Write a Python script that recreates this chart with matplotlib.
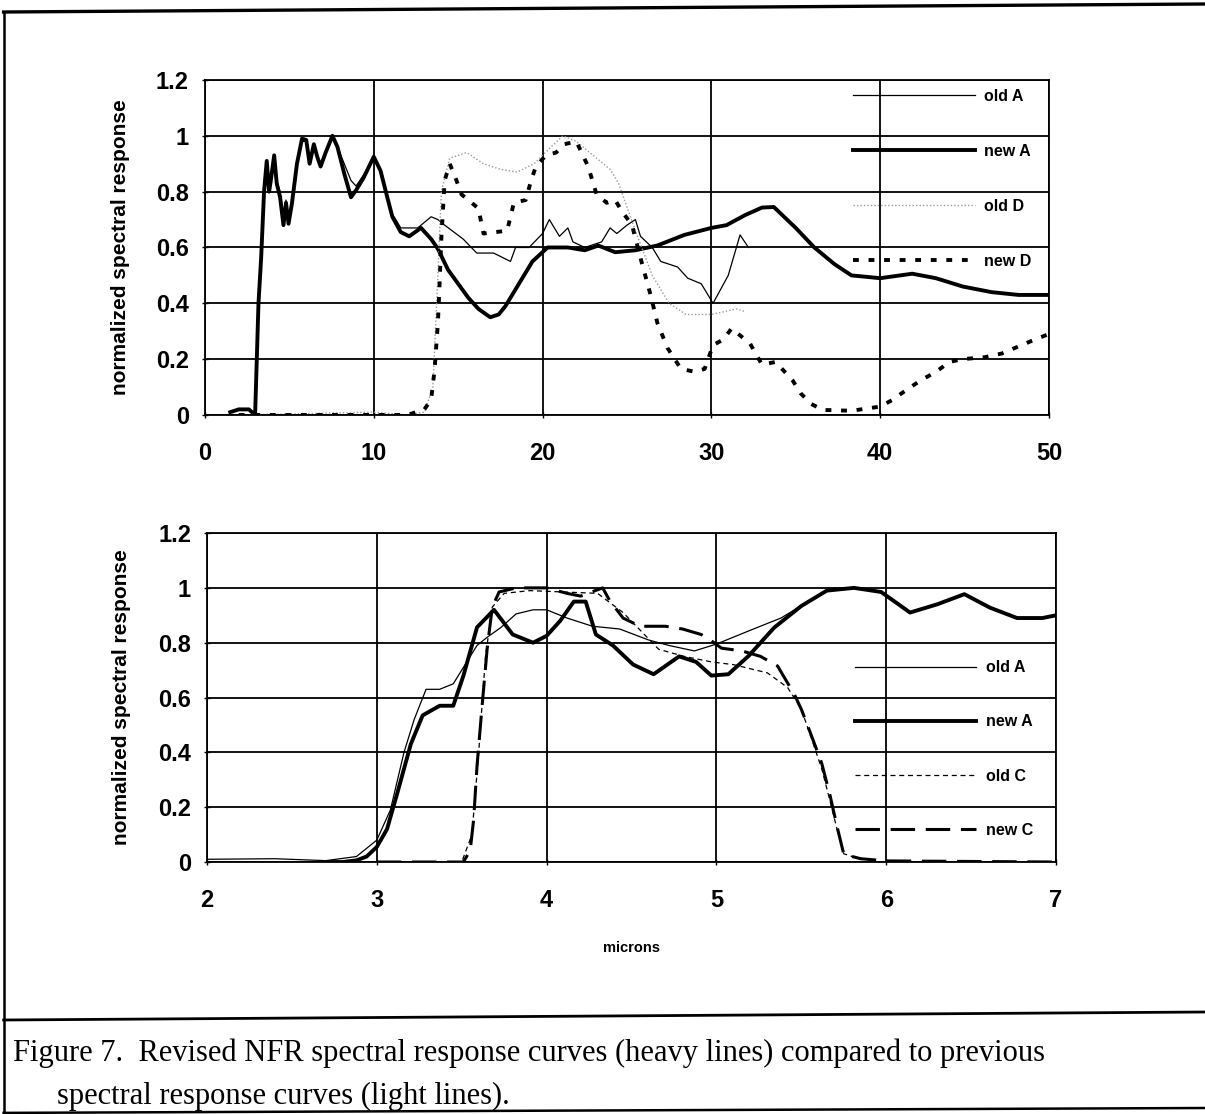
import matplotlib
matplotlib.use("Agg")
import matplotlib.pyplot as plt
from matplotlib.lines import Line2D
from matplotlib.ticker import FuncFormatter

# ---- data ----
# upper panel: wavelength 0-50 microns
newA_top_x = [1.5, 2.0, 2.6, 2.97, 3.17, 3.33, 3.5, 3.66, 3.8, 3.9, 4.1, 4.25, 4.45, 4.65, 4.8,
              4.95, 5.15, 5.45, 5.75, 6.0, 6.2, 6.45, 6.65, 6.85, 7.15, 7.55, 7.85, 8.25, 8.65,
              8.95, 9.4, 10.0, 10.4, 10.8, 11.1, 11.6, 12.1, 12.8, 13.4, 13.8, 14.4, 15.0, 15.6,
              16.2, 16.9, 17.4, 17.8, 18.6, 19.4, 20.3, 21.5, 22.5, 23.3, 24.3, 25.5, 26.8,
              28.4, 30.0, 30.9, 32.0, 33.0, 33.7, 35.0, 36.1, 37.3, 38.3, 40.0, 41.9, 43.3,
              44.9, 46.6, 48.2, 50.0]
newA_top_y = [0.01, 0.02, 0.02, 0.0, 0.4, 0.565, 0.8, 0.91, 0.8, 0.84, 0.93, 0.83, 0.78, 0.68, 0.76,
              0.685, 0.757, 0.9, 0.99, 0.985, 0.9, 0.97, 0.925, 0.89, 0.94, 1.0, 0.96, 0.865, 0.78,
              0.805, 0.85, 0.925, 0.875, 0.78, 0.71, 0.655, 0.64, 0.67, 0.63, 0.595, 0.52, 0.47, 0.42,
              0.38, 0.35, 0.36, 0.39, 0.47, 0.55, 0.6, 0.6, 0.59, 0.607, 0.583, 0.59, 0.607,
              0.645, 0.67, 0.68, 0.716, 0.743, 0.745, 0.67, 0.6, 0.54, 0.5, 0.49, 0.506, 0.49,
              0.46, 0.44, 0.43, 0.43]

oldA_top_x = [1.5, 2.0, 2.6, 2.97, 3.17, 3.33, 3.5, 3.66, 3.8, 3.9, 4.1, 4.25, 4.45, 4.65, 4.8,
              4.95, 5.15, 5.45, 5.75, 6.0, 6.2, 6.45, 6.65, 6.85, 7.15, 7.55, 7.85, 8.25, 8.65,
              8.95, 9.4, 10.0, 10.4, 10.8, 11.1, 11.6, 12.6, 13.4, 13.8, 14.2, 15.3, 16.1, 17.1,
              18.1, 18.4, 19.2, 20.0, 20.4, 21.0, 21.5, 21.8, 22.5, 23.5, 24.0, 24.4, 25.0, 25.5,
              25.8, 26.5, 27.0, 27.5, 28.0, 28.6, 29.4, 30.1, 31.0, 31.7, 32.2]
oldA_top_y = [0.01, 0.02, 0.02, 0.0, 0.42, 0.58, 0.82, 0.9, 0.82, 0.85, 0.92, 0.84, 0.8, 0.72, 0.77,
              0.7, 0.77, 0.9, 0.98, 0.98, 0.91, 0.96, 0.93, 0.9, 0.94, 0.99, 0.96, 0.9, 0.84,
              0.82, 0.86, 0.92, 0.88, 0.79, 0.72, 0.67, 0.67, 0.71, 0.7, 0.68, 0.63, 0.58, 0.58,
              0.55, 0.6, 0.6, 0.65, 0.7, 0.64, 0.67, 0.62, 0.6, 0.62, 0.67, 0.65, 0.68, 0.7,
              0.64, 0.6, 0.55, 0.54, 0.53, 0.49, 0.47, 0.4, 0.5, 0.645, 0.6]

oldD_top_x = [2.0, 10.0, 12.0, 13.0, 13.5, 13.8, 14.0, 14.5, 15.5, 16.5, 17.5, 18.5, 19.5, 20.5,
              21.2, 22.0, 23.0, 24.0, 24.5, 25.5, 26.5, 27.5, 28.5, 30.0, 31.5, 32.0]
oldD_top_y = [0.0, 0.01, 0.0, 0.01, 0.1, 0.5, 0.8, 0.92, 0.94, 0.9, 0.88, 0.87, 0.9, 0.96,
              1.0, 0.98, 0.93, 0.88, 0.83, 0.66, 0.5, 0.4, 0.36, 0.36, 0.38, 0.37]

newD_top_x = [2.0, 12.0, 13.0, 13.4, 13.6, 13.8, 13.9, 14.0, 14.2, 14.5, 14.9, 15.2, 15.8, 16.2,
              16.5, 17.2, 17.9, 18.3, 19.0, 19.3, 19.6, 20.2, 20.8, 21.3, 22.0, 22.7, 23.2, 23.8,
              24.3, 24.7, 25.3, 25.9, 26.4, 26.8, 27.4, 28.2, 29.0, 29.6, 30.1, 30.7, 31.2, 31.8,
              32.3, 33.0, 33.8, 34.8, 35.3, 35.9, 36.6, 38.3, 40.0, 40.7, 41.4, 42.4, 43.3, 44.1,
              44.9, 46.2, 47.2, 48.1, 49.0, 50.0]
newD_top_y = [0.0, 0.0, 0.02, 0.056, 0.16, 0.33, 0.47, 0.63, 0.84, 0.9, 0.84, 0.79, 0.76, 0.74,
              0.65, 0.655, 0.66, 0.76, 0.77, 0.835, 0.89, 0.93, 0.94, 0.97, 0.98, 0.89, 0.79, 0.76,
              0.77, 0.73, 0.68, 0.54, 0.43, 0.33, 0.24, 0.165, 0.155, 0.165, 0.25, 0.27, 0.31, 0.28,
              0.255, 0.18, 0.19, 0.125, 0.077, 0.04, 0.018, 0.015, 0.03, 0.053, 0.083, 0.124, 0.154, 0.19,
              0.2, 0.207, 0.22, 0.243, 0.266, 0.29]

# lower panel: wavelength 2-7 microns
oldA_bot_x = [2.0, 2.4, 2.7, 2.88, 3.0, 3.08, 3.16, 3.22, 3.29, 3.37, 3.45, 3.53, 3.59, 3.65,
              3.73, 3.82, 3.92, 4.0, 4.12, 4.27, 4.43, 4.6, 4.72, 4.87, 5.0, 5.19, 5.38, 5.54,
              5.62, 5.7]
oldA_bot_y = [0.01, 0.012, 0.005, 0.02, 0.08, 0.19, 0.4, 0.52, 0.63, 0.63, 0.65, 0.73, 0.79, 0.82,
              0.855, 0.905, 0.92, 0.92, 0.89, 0.86, 0.85, 0.81, 0.79, 0.77, 0.795, 0.843, 0.89, 0.95,
              0.98, 1.0]

newA_bot_x = [2.7, 2.8, 2.88, 2.94, 3.0, 3.06, 3.12, 3.2, 3.27, 3.37, 3.45, 3.51, 3.59, 3.69,
              3.8, 3.92, 4.0, 4.08, 4.16, 4.23, 4.29, 4.39, 4.51, 4.63, 4.78, 4.88, 4.97, 5.07,
              5.19, 5.34, 5.5, 5.65, 5.81, 5.97, 6.14, 6.3, 6.46, 6.61, 6.77, 6.92, 7.0]
newA_bot_y = [0.0, 0.0, 0.006, 0.02, 0.055, 0.12, 0.25, 0.43, 0.535, 0.57, 0.57, 0.68, 0.856, 0.92,
              0.83, 0.8, 0.825, 0.88, 0.95, 0.95, 0.83, 0.79, 0.72, 0.685, 0.75, 0.73, 0.68, 0.685,
              0.752, 0.855, 0.934, 0.99, 1.0, 0.985, 0.91, 0.94, 0.977, 0.928, 0.89, 0.89, 0.9]

oldC_bot_x = [3.0, 3.5, 3.56, 3.6, 3.64, 3.68, 3.75, 3.9, 4.1, 4.3, 4.45, 4.56, 4.66, 4.81,
              4.97, 5.1, 5.3, 5.42, 5.5, 5.56, 5.62, 5.67, 5.71, 5.75, 5.85]
oldC_bot_y = [0.0, 0.0, 0.1, 0.4, 0.75, 0.93, 0.98, 0.99, 0.985, 0.98, 0.91, 0.84, 0.776, 0.75,
              0.73, 0.72, 0.69, 0.636, 0.557, 0.45, 0.34, 0.22, 0.12, 0.03, 0.01]

newC_bot_x = [3.0, 3.51, 3.55, 3.57, 3.59, 3.62, 3.65, 3.68, 3.72, 3.82, 4.0, 4.12, 4.2, 4.33,
              4.37, 4.45, 4.55, 4.7, 4.8, 4.91, 4.97, 5.03, 5.15, 5.26, 5.36, 5.46, 5.5, 5.56,
              5.62, 5.67, 5.71, 5.75, 5.85, 6.0, 7.0]
newC_bot_y = [0.0, 0.0, 0.043, 0.154, 0.35, 0.57, 0.78, 0.93, 0.985, 1.0, 1.0, 0.98, 0.97, 1.0,
              0.955, 0.89, 0.86, 0.86, 0.85, 0.83, 0.807, 0.78, 0.77, 0.75, 0.715, 0.61, 0.557, 0.46,
              0.36, 0.24, 0.13, 0.028, 0.012, 0.004, 0.0]

top_xticks = [0, 10, 20, 30, 40, 50]
bot_xticks = [2, 3, 4, 5, 6, 7]
yticks = [0, 0.2, 0.4, 0.6, 0.8, 1.0, 1.2]

# ---- styles ----
COND = ["Liberation Sans Narrow", "Liberation Sans", "DejaVu Sans"]
THIN = dict(color="black", lw=0.9)
HEAVY = dict(color="black", lw=2.8, solid_joinstyle="round")
OLD_D = dict(color="#9a9a9a", lw=1.0, ls=(0, (1, 1.5)))
NEW_D = dict(color="black", lw=2.8, ls=(0, (1.5, 2.5)))
OLD_C = dict(color="black", lw=0.9, ls=(0, (4, 3)))
NEW_C = dict(color="black", lw=2.2, ls=(0, (8, 3.5)))

fig = plt.figure(figsize=(12.05, 11.14), dpi=100)
ax1 = fig.add_axes([0.1701, 0.6275, 0.7004, 0.3007])
ax2 = fig.add_axes([0.1718, 0.2262, 0.7046, 0.2953])

ax1.plot(oldA_top_x, oldA_top_y, label="old A", **THIN)
ax1.plot(newA_top_x, newA_top_y, label="new A", **HEAVY)
ax1.plot(oldD_top_x, oldD_top_y, label="old D", **OLD_D)
ax1.plot(newD_top_x, newD_top_y, label="new D", **NEW_D)
ax1.set_xlim(0, 50)
ax1.set_xticks(top_xticks)

ax2.plot(oldA_bot_x, oldA_bot_y, label="old A", **THIN)
ax2.plot(newA_bot_x, newA_bot_y, label="new A", **HEAVY)
ax2.plot(oldC_bot_x, oldC_bot_y, label="old C", **OLD_C)
ax2.plot(newC_bot_x, newC_bot_y, label="new C", **NEW_C)
ax2.set_xlim(2, 7)
ax2.set_xticks(bot_xticks)
ax2.set_xlabel("microns", family=COND, fontweight="bold", fontsize=10.5, labelpad=21)

for ax in (ax1, ax2):
    ax.set_ylim(0, 1.2)
    ax.set_yticks(yticks)
    ax.yaxis.set_major_formatter(FuncFormatter(lambda v, _: f"{v:g}"))
    ax.grid(True, color="black", lw=1.3)
    ax.set_axisbelow(True)
    for sp in ax.spines.values():
        sp.set_linewidth(1.3)
    ax.tick_params(axis="y", direction="inout", length=5, width=1, pad=9)
    ax.tick_params(axis="x", direction="inout", length=5, width=1, pad=17)
    for lab in ax.get_xticklabels() + ax.get_yticklabels():
        lab.set_family(COND)
        lab.set_fontweight("bold")
        lab.set_fontsize(17)
    ax.set_ylabel("normalized spectral response", family=COND, fontweight="bold", fontsize=15)
    ax.yaxis.set_label_coords(-0.089, 0.5)

leg_kw = dict(loc="upper left", frameon=False, handlelength=7.6, handletextpad=0.6,
              borderpad=0, borderaxespad=0,
              prop=dict(family=COND, weight="bold", size=11.5))
ax1.legend(bbox_to_anchor=(0.768, 0.973), labelspacing=2.5, **leg_kw)
ax2.legend(bbox_to_anchor=(0.763, 0.613), labelspacing=2.45, **leg_kw)

# page frame and caption box of the scanned report
fig.add_artist(Line2D([0.003, 1.0], [1 - 12 / 1114, 1 - 4 / 1114], color="black", lw=2.4))
fig.add_artist(Line2D([0.003, 0.003], [0.0, 1 - 12 / 1114], color="black", lw=1.8))
fig.add_artist(Line2D([0.003, 1.0], [1 - 1020 / 1114, 1 - 1012 / 1114], color="black", lw=2.0))
fig.add_artist(Line2D([0.003, 1.0], [0.001, 1 - 1108 / 1114], color="black", lw=1.8))

cap_font = dict(family=["Liberation Serif", "DejaVu Serif"], fontsize=22)
fig.text(0.0108, 1 - 1061 / 1114,
         "Figure 7.  Revised NFR spectral response curves (heavy lines) compared to previous",
         va="baseline", ha="left", **cap_font)
fig.text(0.0473, 1 - 1104 / 1114, "spectral response curves (light lines).",
         va="baseline", ha="left", **cap_font)

fig.savefig("out.png", dpi=100)
